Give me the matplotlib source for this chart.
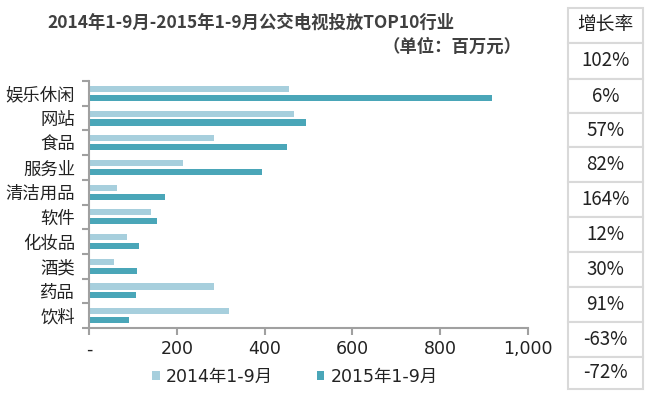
import numpy as np
import matplotlib
matplotlib.use("Agg")
import matplotlib.pyplot as plt
from matplotlib.patches import Rectangle

# ===============================
# Data
# ===============================
categories = ["娱乐休闲", "网站", "食品", "服务业", "清洁用品", "软件", "化妆品", "酒类", "药品", "饮料"]
values_2014 = [455, 467, 285, 214, 63, 141, 87, 57, 285, 320]
values_2015 = [919, 494, 452, 393, 172, 155, 113, 110, 106, 90]
growth_labels = ["102%", "6%", "57%", "82%", "164%", "12%", "30%", "91%", "-63%", "-72%"]
series_names = ["2014年1-9月", "2015年1-9月"]
xticks = [0, 200, 400, 600, 800, 1000]
xtick_labels = ["-", "200", "400", "600", "800", "1,000"]

title = "2014年1-9月-2015年1-9月公交电视投放TOP10行业"
unit = "（单位：百万元）"
table_header = "增长率"

# ===============================
# Style
# ===============================
plt.rcParams['font.family'] = ['Noto Sans CJK SC', 'DejaVu Sans']
num_font = ['DejaVu Sans', 'Noto Sans CJK SC']
c2014 = "#a7cfdd"
c2015 = "#4aa6b8"
spine_c = "#a0a0a0"

W, H = 650, 395
fig = plt.figure(figsize=(W / 100, H / 100), dpi=100)

def px(x0, y0, x1, y1):
    # pixel box (top-left origin) -> figure fraction
    return [x0 / W, 1 - y1 / H, (x1 - x0) / W, (y1 - y0) / H]

ax = fig.add_axes(px(89, 81, 528, 328))

n = len(categories)
ypos = np.arange(n)
bar_h = 0.25
ax.barh(ypos - 0.18, values_2014, height=bar_h, color=c2014, label=series_names[0])
ax.barh(ypos + 0.18, values_2015, height=bar_h, color=c2015, label=series_names[1])

ax.set_ylim(n - 0.5, -0.5)
ax.set_xlim(0, 1000)

ax.set_yticks(ypos)
ax.set_yticklabels(categories, fontsize=12.5, color="#222222")
ax.set_yticks(np.arange(n + 1) - 0.5, minor=True)
ax.tick_params(axis='y', which='major', length=0, pad=10)
ax.tick_params(axis='y', which='minor', length=5, width=1.5, color=spine_c)

ax.set_xticks(xticks)
ax.set_xticklabels(xtick_labels, fontsize=12.5, color="#222222", family=num_font)
ax.tick_params(axis='x', length=5, width=1.5, color=spine_c, pad=4)

for s in ["top", "right"]:
    ax.spines[s].set_visible(False)
for s in ["left", "bottom"]:
    ax.spines[s].set_color(spine_c)
    ax.spines[s].set_linewidth(1.5)

leg = fig.legend(loc="center", bbox_to_anchor=(295 / W, 1 - 377 / H), ncol=2,
                 frameon=False, handlelength=0.45, handleheight=0.45,
                 columnspacing=2.5, handletextpad=0.35,
                 prop={'family': num_font, 'size': 12.5})
for t in leg.get_texts():
    t.set_color("#222222")

# ===============================
# Titles
# ===============================
fig.text(47 / W, 1 - 23 / H, title, fontsize=12.5, fontweight="bold",
         color="#404040", va="center", ha="left")
fig.text(522 / W, 1 - 47 / H, unit, fontsize=12.5, fontweight="bold",
         color="#404040", va="center", ha="right")

# ===============================
# Growth table
# ===============================
tx0, tx1 = 568, 643
row_edges = [8, 43, 79, 113, 147, 182, 217, 252, 287, 322, 357, 389]
cells = [table_header] + growth_labels
for i, txt in enumerate(cells):
    y0, y1 = row_edges[i], row_edges[i + 1]
    fig.patches.append(Rectangle((tx0 / W, 1 - y1 / H), (tx1 - tx0) / W, (y1 - y0) / H,
                                 transform=fig.transFigure, facecolor="white",
                                 edgecolor="#d9d9d9", linewidth=1.5))
    fig.text((tx0 + tx1) / 2 / W, 1 - (y0 + y1) / 2 / H, txt, fontsize=13.5,
             color="#222222", ha="center", va="center")

fig.savefig("out.png", dpi=100)
